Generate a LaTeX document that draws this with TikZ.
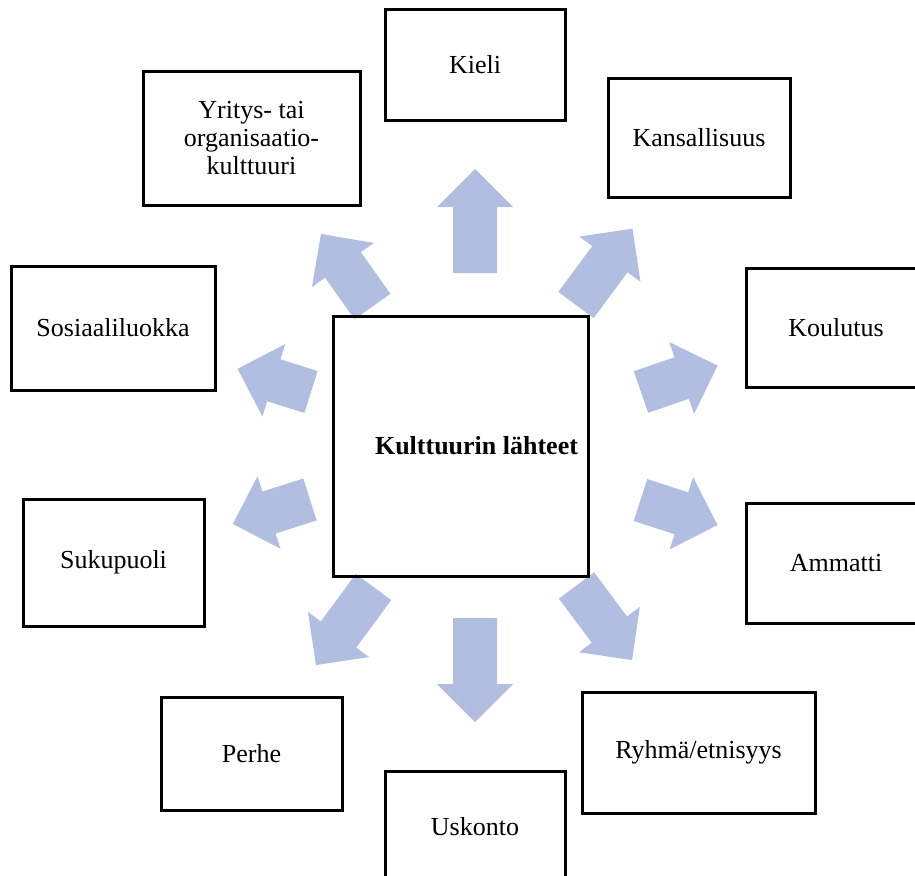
\documentclass[tikz,border=0pt]{standalone}
\usepackage{fontspec}
\setmainfont{Liberation Serif}
\usepackage{tikz}
\usepackage{xcolor}

\definecolor{nuolisini}{RGB}{177,190,223}
% block arrow: tail x, tail y, angle, length
\newcommand{\nuoli}[4]{%
	\fill[nuolisini,shift={(#1,#2)},rotate=#3] (0,-22) -- (#4-38,-22) -- (#4-38,-38) -- (#4,0) -- (#4-38,38) -- (#4-38,22) -- (0,22) -- cycle;}

\begin{document}
\begin{tikzpicture}[x=1pt,y=-1pt,
	laatikko/.style={draw,line width=3pt,align=center,minimum width=180pt,minimum height=119pt,inner sep=0pt,font=\fontsize{26}{28}\selectfont}]
	\useasboundingbox (0,0) rectangle (915,875);
	\clip (0,0) rectangle (915,875);
	% nuolet keskelta ulospain
	\nuoli{475}{273}{90}{104}
	\nuoli{576}{305}{53.5}{95}
	\nuoli{641}{392}{19}{81}
	\nuoli{640.5}{500}{-18}{81}
	\nuoli{576.5}{585.5}{-53.3}{93}
	\nuoli{475}{618}{-90}{104}
	\nuoli{373.5}{587}{233.6}{97}
	\nuoli{310}{499.5}{197.6}{81}
	\nuoli{311}{392}{162.5}{77}
	\nuoli{372.5}{306.5}{125.4}{89}
	% keskimmainen laatikko
	\node[laatikko,minimum height=260pt,text width=235pt,align=flush right,inner xsep=10pt,font=\fontsize{26}{28}\selectfont\bfseries] (lahteet) at (460.5,446) {Kulttuurin lähteet};
	% lahteet
	\node[laatikko,minimum height=110pt] (kieli) at (475,65) {Kieli};
	\node[laatikko,minimum width=182pt] (kansallisuus) at (699,137.5) {Kansallisuus};
	\node[laatikko] (koulutus) at (836,327.5) {Koulutus};
	\node[laatikko,minimum height=120pt] (ammatti) at (836,563) {Ammatti};
	\node[laatikko,minimum width=233pt,minimum height=121pt] (ryhma) at (698.5,752.5) {Ryhmä/etnisyys};
	\node[laatikko,minimum height=112pt] (uskonto) at (475,827) {Uskonto};
	\node[laatikko,minimum width=181pt,minimum height=113pt] (perhe) at (251.5,753.5) {Perhe};
	\node[laatikko,minimum width=181pt,minimum height=127pt] (sukupuoli) at (113.5,562.5) {Sukupuoli};
	\node[laatikko,minimum width=204pt,minimum height=124pt] (luokka) at (113,328) {Sosiaaliluokka};
	\node[laatikko,minimum width=217pt,minimum height=134pt] (yritys) at (251.5,138) {Yritys- tai\\organisaatio-\\kulttuuri};
\end{tikzpicture}
\end{document}
